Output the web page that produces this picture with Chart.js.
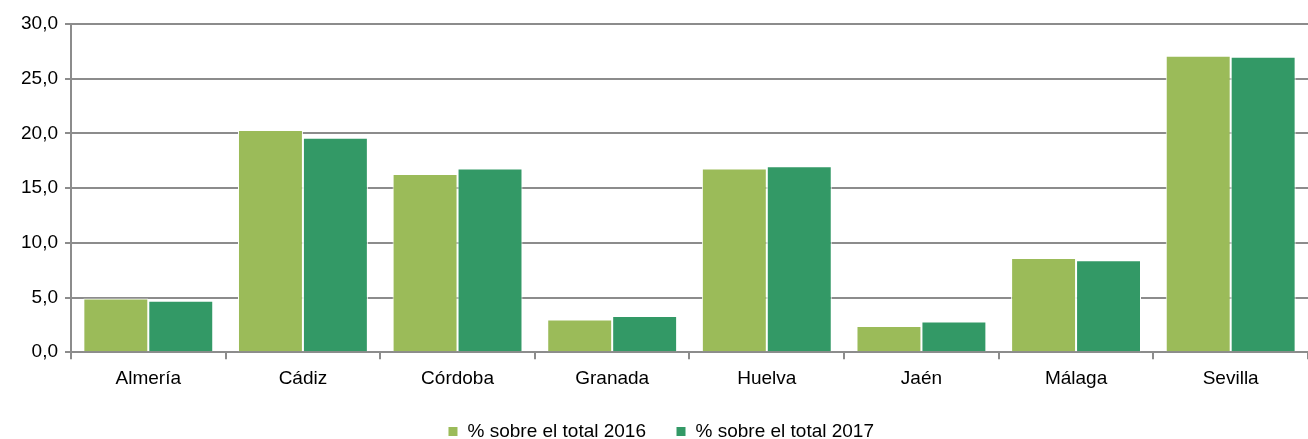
<!DOCTYPE html>
<html>
<head>
<meta charset="utf-8">
<script src="https://cdn.jsdelivr.net/npm/chart.js@4"></script>
<style>
  html, body { margin: 0; padding: 0; background: #fff; overflow: hidden; }
  #wrap { width: 1308px; height: 439px; }
  canvas { display: block; }
</style>
</head>
<body>
<div id="wrap"><canvas id="chart" width="1308" height="439"></canvas></div>
<script>
// Provinces and shares
const provincias = ['Almería', 'Cádiz', 'Córdoba', 'Granada', 'Huelva', 'Jaén', 'Málaga', 'Sevilla'];
const total2016 = [4.9, 20.3, 16.3, 3.0, 16.8, 2.4, 8.6, 27.1];
const total2017 = [4.7, 19.6, 16.8, 3.3, 17.0, 2.8, 8.4, 27.0];
const seriesLabels = ['% sobre el total 2016', '% sobre el total 2017'];

Chart.defaults.font.family = '"Liberation Sans", Arial, sans-serif';
Chart.defaults.font.size = 19;
Chart.defaults.color = '#000';

// legend box is a bit tall with padding 30, trim it
const legendTrim = {
    id: 'legendTrim',
    beforeInit(chart) {
        const lg = chart.legend;
        const fit = lg.fit;
        lg.fit = function () {
            fit.call(this);
            this.height -= 12;
        };
    }
};

const ctx = document.getElementById('chart').getContext('2d');
new Chart(ctx, {
    type: 'bar',
    data: {
        labels: provincias,
        datasets: [{
            label: seriesLabels[0],
            data: total2016,
            backgroundColor: '#9bbb59',
            borderColor: '#ffffff',
            borderWidth: 1
        }, {
            label: seriesLabels[1],
            data: total2017,
            backgroundColor: '#339966',
            borderColor: '#ffffff',
            borderWidth: 1
        }]
    },
    options: {
        responsive: false,
        animation: false,
        categoryPercentage: 0.84,
        barPercentage: 1.0,
        layout: { padding: { top: 24, right: 0, left: 14, bottom: 0 } },
        plugins: {
            tooltip: { enabled: false },
            legend: {
                position: 'bottom',
                labels: { boxWidth: 10, boxHeight: 10, padding: 30 }
            }
        },
        scales: {
            x: {
                offset: true,
                grid: { offset: true, drawOnChartArea: false, drawTicks: true, tickLength: 7, color: '#8c8c8c', lineWidth: 2 },
                border: { color: '#8c8c8c', width: 2 },
                ticks: { padding: 8 },
                afterFit: s => { s.height -= 6; }
            },
            y: {
                min: 0,
                max: 30,
                ticks: {
                    stepSize: 5,
                    padding: 7,
                    callback: v => v.toFixed(1).replace('.', ',')
                },
                grid: { color: '#8c8c8c', lineWidth: 2, tickLength: 6 },
                border: { color: '#8c8c8c', width: 2 }
            }
        }
    },
    plugins: [legendTrim]
});
</script>
</body>
</html>
